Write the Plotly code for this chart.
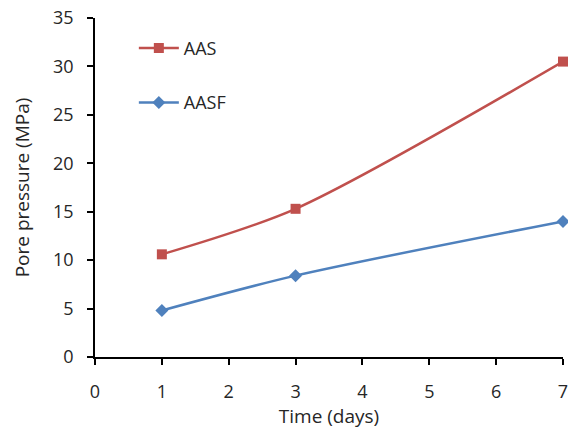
import plotly.graph_objects as go

days = [1, 3, 7]
aas = [10.6, 15.3, 30.5]
aasf = [4.8, 8.4, 14.0]
x_ticks = [0, 1, 2, 3, 4, 5, 6, 7]
y_ticks = [0, 5, 10, 15, 20, 25, 30, 35]

red = "#C0504D"
blue = "#4F81BD"
font = "Open Sans"
txt = "#262626"

fig = go.Figure()
fig.add_trace(go.Scatter(
    x=days, y=aas, name="AAS", mode="lines+markers", legendgroup="a",
    line=dict(color=red, width=2.5, shape="spline", smoothing=0.8),
    marker=dict(symbol="square", size=10, color=red),
    cliponaxis=False,
))
fig.add_trace(go.Scatter(
    x=days, y=aasf, name="AASF", mode="lines+markers", legendgroup="b",
    line=dict(color=blue, width=2.5, shape="spline", smoothing=0.8),
    marker=dict(symbol="diamond", size=10, color=blue),
    cliponaxis=False,
))

axis_common = dict(
    showgrid=False, zeroline=False, showline=True, linecolor="#000000", linewidth=1.5,
    ticks="outside", ticklen=6, tickcolor="#000000", tickwidth=1.5,
    tickfont=dict(family=font, size=18, color=txt), automargin=False,
    ticklabeloverflow="allow",
)

fig.update_layout(
    width=568, height=429,
    margin=dict(l=95, r=5, t=18, b=72),
    plot_bgcolor="white", paper_bgcolor="white",
    font=dict(family=font, color=txt),
    xaxis=dict(range=[0, 7], tickvals=x_ticks, ticklabelstandoff=12,
               title=dict(text="Time (days)", font=dict(family=font, size=19, color=txt), standoff=0),
               **axis_common),
    yaxis=dict(range=[0, 35], tickvals=y_ticks, ticklabelstandoff=10,
               title=dict(text="Pore pressure (MPa)", font=dict(family=font, size=19, color=txt), standoff=18),
               **axis_common),
    legend=dict(x=0.083, y=0.965, xanchor="left", yanchor="top",
                font=dict(family=font, size=18, color=txt), itemwidth=40,
                tracegroupgap=28, bgcolor="rgba(0,0,0,0)"),
)

fig.write_html("out.html", config={"displayModeBar": False},
               post_script="document.body.style.margin='0';document.body.style.overflow='hidden';")
